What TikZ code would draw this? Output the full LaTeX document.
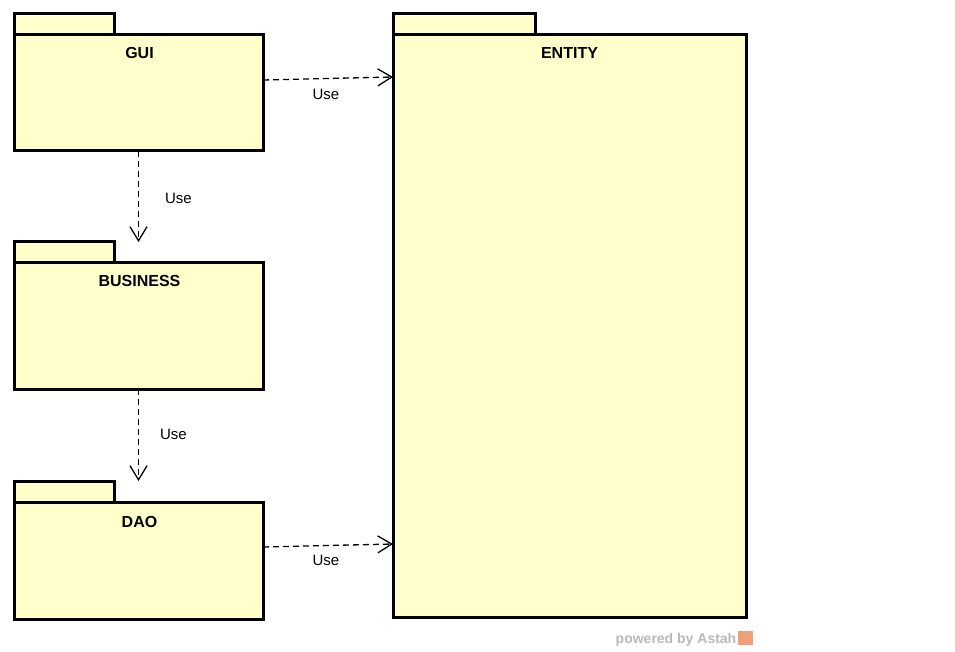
\documentclass[tikz,border=0pt]{standalone}
\usepackage{fontspec}
\setmainfont{Liberation Sans}
\usetikzlibrary{arrows.meta}
\definecolor{pkgfill}{RGB}{255,255,204}
\definecolor{astahgray}{RGB}{185,185,185}
\definecolor{astahorange}{RGB}{240,160,120}
\tikzset{
  pkg/.style={draw=black, line width=3pt, fill=pkgfill, anchor=north west, inner sep=0pt, outer sep=0pt},
  pkgtitle/.style={font=\fontsize{16}{18}\selectfont\bfseries, inner sep=0pt, anchor=base},
  uselabel/.style={font=\fontsize{15}{17}\selectfont, inner sep=0pt},
  usearrow/.style={line width=1.3pt, dash pattern=on 6pt off 4pt, -{Straight Barb[length=14pt,width=17pt,line width=1.3pt]}}
}
\begin{document}
\begin{tikzpicture}[x=1pt,y=-1pt]
\useasboundingbox (0,0) rectangle (955,652);
% GUI
\node[pkg, minimum width=100pt, minimum height=21pt] (guitab) at (14,14) {};
\node[pkg, minimum width=249pt, minimum height=116pt] (gui) at (14,35) {};
\node[pkgtitle] (guit) at (139.5,59) {GUI};
% BUSINESS
\node[pkg, minimum width=100pt, minimum height=21pt] (bustab) at (14,242) {};
\node[pkg, minimum width=249pt, minimum height=126pt] (bus) at (14,263) {};
\node[pkgtitle] (bust) at (139.5,287) {BUSINESS};
% DAO
\node[pkg, minimum width=100pt, minimum height=21pt] (daotab) at (14,481) {};
\node[pkg, minimum width=249pt, minimum height=117pt] (dao) at (14,502) {};
\node[pkgtitle] (daot) at (139.5,527) {DAO};
% ENTITY
\node[pkg, minimum width=142pt, minimum height=21pt] (enttab) at (393,14) {};
\node[pkg, minimum width=353pt, minimum height=582pt] (ent) at (393,35) {};
\node[pkgtitle] (entt) at (569.5,59) {ENTITY};
% connectors
\draw[usearrow] ([yshift=-45pt]gui.north east) -- ([yshift=-42pt]ent.north west);
\node[uselabel] (l1) at (326,94) {Use};
\draw[usearrow] (gui.south) -- (gui.south |- bustab.north);
\node[uselabel] (l2) at (178.5,198) {Use};
\draw[usearrow] (bus.south) -- (bus.south |- daotab.north);
\node[uselabel] (l3) at (173.5,434) {Use};
\draw[usearrow] ([yshift=-45pt]dao.north east) -- ([yshift=-509pt]ent.north west);
\node[uselabel] (l4) at (326,560) {Use};
% watermark
\node[font=\fontsize{14}{16}\selectfont\bfseries, text=astahgray, inner sep=0pt, anchor=base east] (pw) at (736.5,643.5) {powered by Astah};
\node[fill=astahorange, minimum width=15pt, minimum height=14pt, inner sep=0pt, anchor=north west] (logo) at (738,631) {};
\end{tikzpicture}
\end{document}
